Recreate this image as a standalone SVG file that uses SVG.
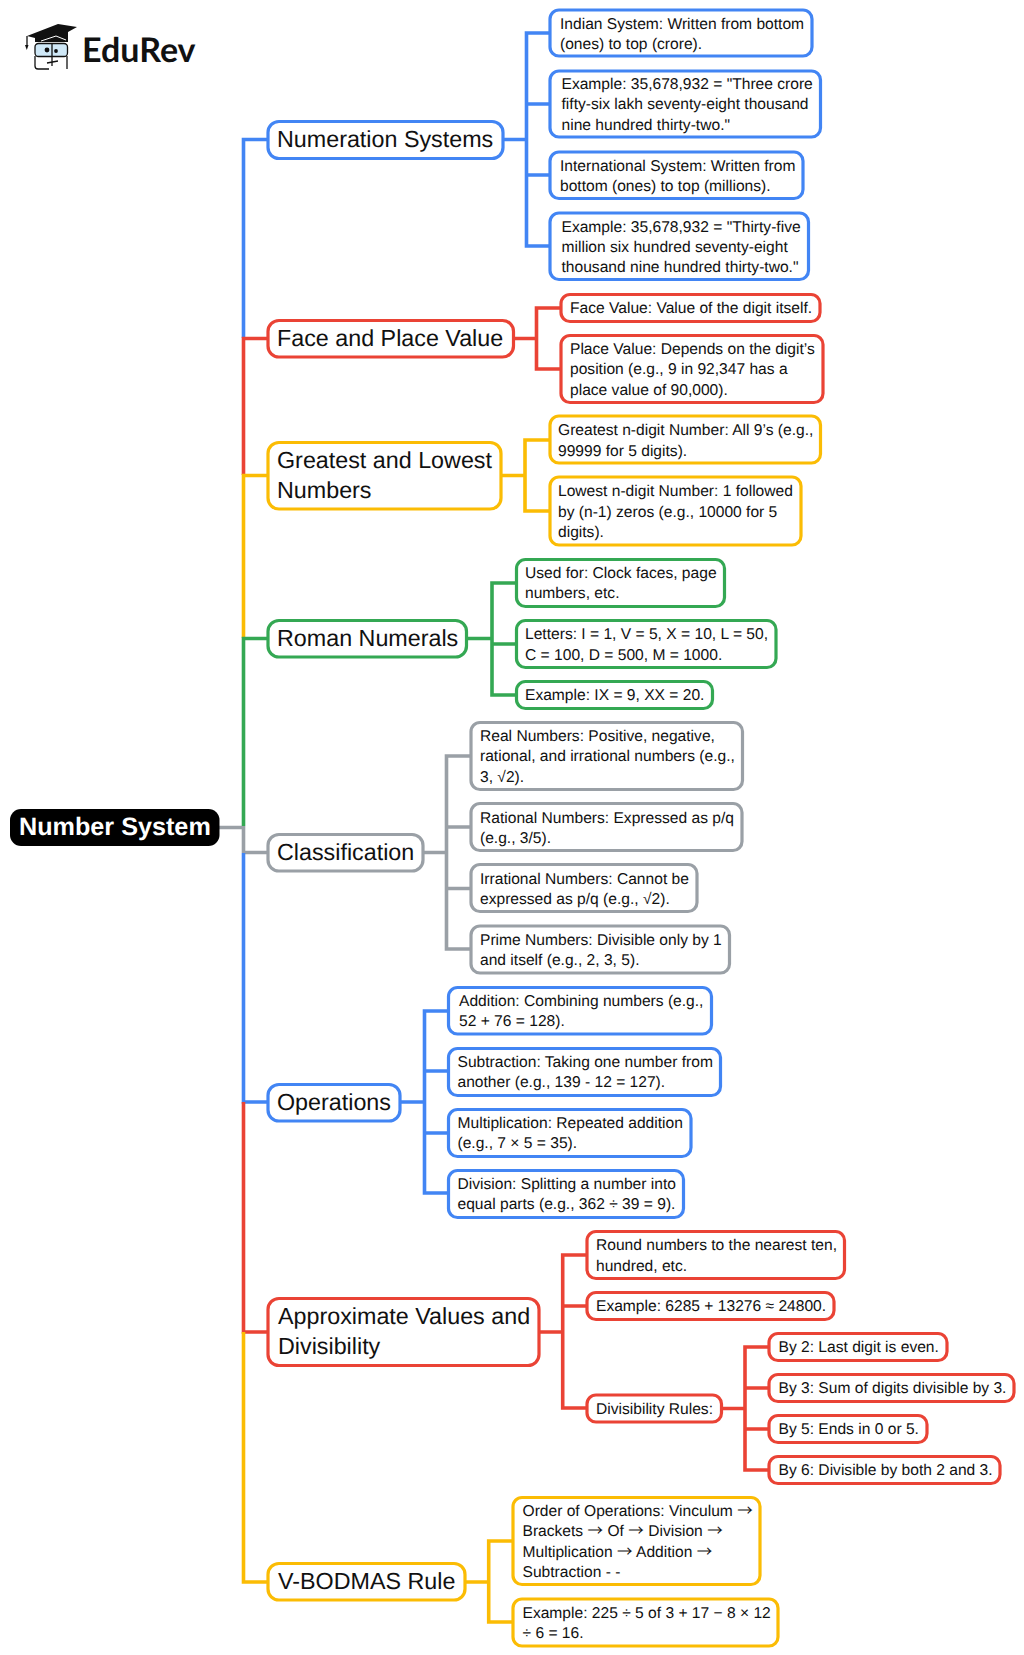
<svg xmlns="http://www.w3.org/2000/svg" width="1024" height="1655" viewBox="0 0 1024 1655">
<style>
text{font-family:"Liberation Sans",Arial,sans-serif;fill:#111;text-rendering:geometricPrecision}
.s{font-size:15.6px}
.m{font-size:23.300px}
.a{font-family:"Noto Sans CJK SC",sans-serif}
.n{fill:#fff;stroke-width:3.2}
.c{fill:none;stroke-width:3.6}
.blue{stroke:#4285f4}.red{stroke:#ea4335}.yel{stroke:#fbbc04}.grn{stroke:#34a853}.gry{stroke:#9aa0a6}
</style>
<rect width="1024" height="1655" fill="#fff"/>
<g id="connectors">
<path class="c gry" d="M219 827.5H243.5M243.5 826V853M243.5 852.5H268"/>
<path class="c blue" d="M268 139.5H243.5V338"/>
<path class="c red" d="M268 338.5H243.5V475"/>
<path class="c yel" d="M268 475.5H243.5V638"/>
<path class="c grn" d="M268 638.5H243.5V826"/>
<path class="c blue" d="M268 1102H243.5V853"/>
<path class="c red" d="M268 1332H243.5V1102"/>
<path class="c yel" d="M268 1582H243.5V1332"/>
<path class="c blue" d="M503 139.5H526.5M550 33H526.5V246H550M550 104H526.5M550 175H526.5"/>
<path class="c red" d="M514 338.5H536.500M561 308H536.500V369H561"/>
<path class="c yel" d="M502 475.5H525M551 440H525V511H551"/>
<path class="c grn" d="M467 638.5H492M517 583H492V695H517M517 644H492"/>
<path class="c gry" d="M423 852.5H446.5M471 756H446.5V949H471M471 827H446.5M471 888.5H446.5"/>
<path class="c blue" d="M400 1102H424.5M448 1011H424.5V1193H448M448 1071H424.5M448 1133H424.5"/>
<path class="c red" d="M539 1332H562.7M587 1255H562.7V1408H587M587 1306H562.7"/>
<path class="c red" d="M722 1408.5H745M769 1347H745V1470H769M769 1388H745M769 1429H745"/>
<path class="c yel" d="M465.5 1582H488.7M513 1541H488.7V1622H513"/>
</g>
<g id="logo">
<path d="M27 36 58 24 77 27 68 32V42H35V38Z" fill="#111"/>
<path d="M27 36V46" stroke="#111" stroke-width="1.300" fill="none"/>
<path d="M25 45h3.500l-1.700 5z" fill="#111"/>
<path d="M41 41 56 36 66 40" stroke="#fff" stroke-width="1" fill="none"/>
<rect x="35" y="43.500" width="32.500" height="13" rx="3.500" fill="#cfe8f7" stroke="#111" stroke-width="1.300"/>
<circle cx="47" cy="50" r="2.400" fill="#111"/><circle cx="56" cy="51" r="1.900" fill="#111"/>
<path d="M52 43V66M35 56V66Q35 69 38 69H49M67 56V69M47 63 58 61" stroke="#111" stroke-width="1.300" fill="none"/>
<text x="82" y="62" style="font-family:Lato,sans-serif;font-weight:700;font-size:34px">EduRev</text>
</g>
<g id="root"><rect x="10" y="809" width="209.500" height="37" rx="11" fill="#000"/><text x="19" y="835" style="font-weight:700;font-size:25.200px;fill:#fff">Number System</text></g>

<g id="numeration-systems"><rect class="n blue" x="268" y="121.500" width="235" height="37" rx="11"/><text class="m" x="277" y="147">Numeration Systems</text></g>
<g id="n1"><rect class="n blue" x="550" y="10" width="262" height="46" rx="9"/><text class="s" x="560" y="28.500">Indian System: Written from bottom</text><text class="s" x="560" y="48.500">(ones) to top (crore).</text></g>
<g id="n2"><rect class="n blue" x="550" y="71" width="270.500" height="66" rx="9"/><text class="s" x="561.500" y="89">Example: 35,678,932 = "Three crore</text><text class="s" x="561.500" y="109">fifty-six lakh seventy-eight thousand</text><text class="s" x="561.500" y="129.500">nine hundred thirty-two."</text></g>
<g id="n3"><rect class="n blue" x="550" y="152" width="253" height="46.500" rx="9"/><text class="s" x="560" y="170.500">International System: Written from</text><text class="s" x="560" y="190.500">bottom (ones) to top (millions).</text></g>
<g id="n4"><rect class="n blue" x="550" y="213" width="258.500" height="66.500" rx="9"/><text class="s" x="561.500" y="231.500">Example: 35,678,932 = "Thirty-five</text><text class="s" x="561.500" y="252">million six hundred seventy-eight</text><text class="s" x="561.500" y="272">thousand nine hundred thirty-two."</text></g>

<g id="face-place"><rect class="n red" x="268" y="320.500" width="245.500" height="36.500" rx="11"/><text class="m" x="277" y="345.500">Face and Place Value</text></g>
<g id="f1"><rect class="n red" x="561" y="294.500" width="259" height="27" rx="9"/><text class="s" x="570" y="313">Face Value: Value of the digit itself.</text></g>
<g id="f2"><rect class="n red" x="561" y="335.500" width="262" height="67" rx="9"/><text class="s" x="570" y="354">Place Value: Depends on the digit’s</text><text class="s" x="570" y="374">position (e.g., 9 in 92,347 has a</text><text class="s" x="570" y="394.500">place value of 90,000).</text></g>

<g id="greatest-lowest"><rect class="n yel" x="268" y="442.500" width="233" height="66.500" rx="11"/><text class="m" x="277" y="468">Greatest and Lowest</text><text class="m" x="277" y="498">Numbers</text></g>
<g id="g1"><rect class="n yel" x="550" y="416" width="270.500" height="47" rx="9"/><text class="s" x="558" y="435">Greatest n-digit Number: All 9’s (e.g.,</text><text class="s" x="558" y="455.500">99999 for 5 digits).</text></g>
<g id="g2"><rect class="n yel" x="550" y="477" width="251" height="68" rx="9"/><text class="s" x="558" y="496">Lowest n-digit Number: 1 followed</text><text class="s" x="558" y="516.500">by (n-1) zeros (e.g., 10000 for 5</text><text class="s" x="558" y="536.500">digits).</text></g>

<g id="roman-numerals"><rect class="n grn" x="268" y="620.500" width="198.500" height="36.500" rx="11"/><text class="m" x="277" y="646">Roman Numerals</text></g>
<g id="r1"><rect class="n grn" x="516.500" y="559.500" width="208" height="47" rx="9"/><text class="s" x="525" y="578">Used for: Clock faces, page</text><text class="s" x="525" y="598">numbers, etc.</text></g>
<g id="r2"><rect class="n grn" x="516.500" y="620.500" width="259.500" height="47" rx="9"/><text class="s" x="525" y="639">Letters: I = 1, V = 5, X = 10, L = 50,</text><text class="s" x="525" y="659.500">C = 100, D = 500, M = 1000.</text></g>
<g id="r3"><rect class="n grn" x="516.500" y="681.500" width="196" height="27" rx="9"/><text class="s" x="525" y="700">Example: IX = 9, XX = 20.</text></g>

<g id="classification"><rect class="n gry" x="268" y="834.500" width="155" height="36.500" rx="11"/><text class="m" x="277" y="860">Classification</text></g>
<g id="c1"><rect class="n gry" x="471" y="722.500" width="271.500" height="67" rx="9"/><text class="s" x="480" y="741">Real Numbers: Positive, negative,</text><text class="s" x="480" y="761">rational, and irrational numbers (e.g.,</text><text class="s" x="480" y="781.500">3, √2).</text></g>
<g id="c2"><rect class="n gry" x="471" y="803.500" width="271" height="47" rx="9"/><text class="s" x="480" y="822.500">Rational Numbers: Expressed as p/q</text><text class="s" x="480" y="842.500">(e.g., 3/5).</text></g>
<g id="c3"><rect class="n gry" x="471" y="864.500" width="226" height="47" rx="9"/><text class="s" x="480" y="883.500">Irrational Numbers: Cannot be</text><text class="s" x="480" y="904">expressed as p/q (e.g., √2).</text></g>
<g id="c4"><rect class="n gry" x="471" y="926" width="258.500" height="47" rx="9"/><text class="s" x="480" y="944.500">Prime Numbers: Divisible only by 1</text><text class="s" x="480" y="965">and itself (e.g., 2, 3, 5).</text></g>

<g id="operations"><rect class="n blue" x="268" y="1084.500" width="132" height="36.500" rx="11"/><text class="m" x="277" y="1110">Operations</text></g>
<g id="o1"><rect class="n blue" x="448.500" y="987.500" width="263" height="46.500" rx="9"/><text class="s" x="459" y="1006">Addition: Combining numbers (e.g.,</text><text class="s" x="459" y="1026">52 + 76 = 128).</text></g>
<g id="o2"><rect class="n blue" x="448.500" y="1048.500" width="272" height="47" rx="9"/><text class="s" x="457.500" y="1067">Subtraction: Taking one number from</text><text class="s" x="457.500" y="1087">another (e.g., 139 - 12 = 127).</text></g>
<g id="o3"><rect class="n blue" x="448.500" y="1109.500" width="242.500" height="47" rx="9"/><text class="s" x="457.500" y="1128">Multiplication: Repeated addition</text><text class="s" x="457.500" y="1148">(e.g., 7 × 5 = 35).</text></g>
<g id="o4"><rect class="n blue" x="448.500" y="1170.500" width="235" height="47" rx="9"/><text class="s" x="457.500" y="1189">Division: Splitting a number into</text><text class="s" x="457.500" y="1209">equal parts (e.g., 362 ÷ 39 = 9).</text></g>

<g id="approximate"><rect class="n red" x="268" y="1298.500" width="271" height="67" rx="11"/><text class="m" x="278" y="1323.500">Approximate Values and</text><text class="m" x="278" y="1353.500">Divisibility</text></g>
<g id="a1"><rect class="n red" x="587" y="1231.500" width="257.500" height="47" rx="9"/><text class="s" x="596" y="1250">Round numbers to the nearest ten,</text><text class="s" x="596" y="1270.500">hundred, etc.</text></g>
<g id="a2"><rect class="n red" x="587" y="1292.500" width="247" height="27" rx="9"/><text class="s" x="596" y="1311">Example: 6285 + 13276 ≈ 24800.</text></g>
<g id="a3"><rect class="n red" x="587" y="1395" width="134.500" height="27" rx="9"/><text class="s" x="596" y="1413.500">Divisibility Rules:</text></g>
<g id="d1"><rect class="n red" x="769" y="1333.500" width="178" height="27" rx="9"/><text class="s" x="778.500" y="1352">By 2: Last digit is even.</text></g>
<g id="d2"><rect class="n red" x="769" y="1374.500" width="245" height="27" rx="9"/><text class="s" x="778.500" y="1393">By 3: Sum of digits divisible by 3.</text></g>
<g id="d3"><rect class="n red" x="769" y="1415.500" width="158" height="27" rx="9"/><text class="s" x="778.500" y="1434">By 5: Ends in 0 or 5.</text></g>
<g id="d4"><rect class="n red" x="769" y="1456.500" width="231" height="27" rx="9"/><text class="s" x="778.500" y="1475">By 6: Divisible by both 2 and 3.</text></g>

<g id="v-bodmas"><rect class="n yel" x="268" y="1563.500" width="197" height="36.500" rx="11"/><text class="m" x="278" y="1589">V-BODMAS Rule</text></g>
<g id="v1"><rect class="n yel" x="513" y="1497.500" width="247" height="87" rx="9"/><text class="s" x="522.500" y="1516">Order of Operations: Vinculum <tspan class="a">→</tspan></text><text class="s" x="522.500" y="1536">Brackets <tspan class="a">→</tspan> Of <tspan class="a">→</tspan> Division <tspan class="a">→</tspan></text><text class="s" x="522.500" y="1556.500">Multiplication <tspan class="a">→</tspan> Addition <tspan class="a">→</tspan></text><text class="s" x="522.500" y="1576.500">Subtraction - -</text></g>
<g id="v2"><rect class="n yel" x="513" y="1599" width="265" height="47" rx="9"/><text class="s" x="522.500" y="1617.500">Example: 225 ÷ 5 of 3 + 17 − 8 × 12</text><text class="s" x="522.500" y="1638">÷ 6 = 16.</text></g>
</svg>
